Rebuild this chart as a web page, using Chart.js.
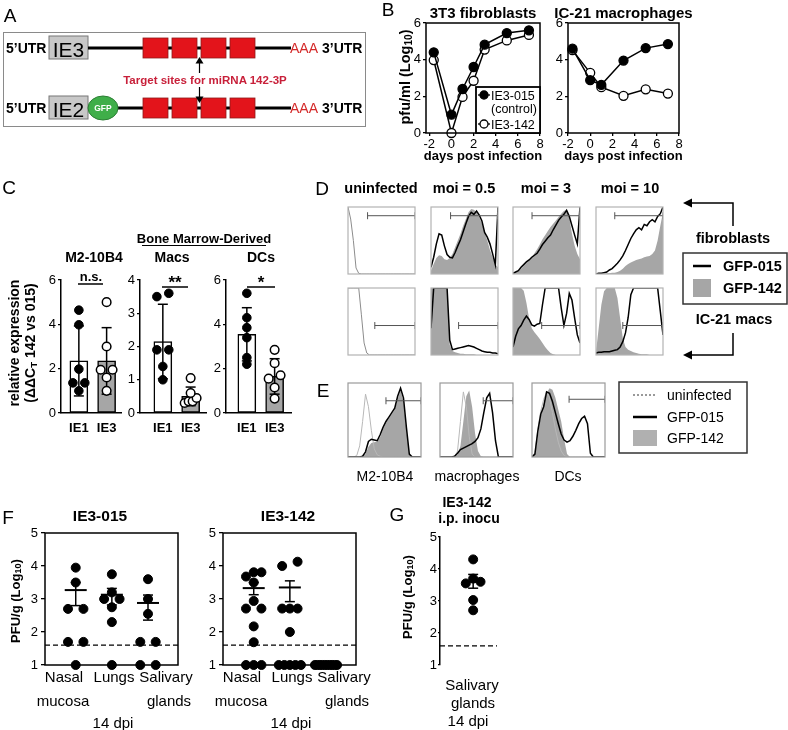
<!DOCTYPE html>
<html lang="en">
<head>
<meta charset="utf-8">
<title>Figure</title>
<script src="https://cdn.jsdelivr.net/npm/chart.js@4.4.1/dist/chart.umd.min.js"></script>
<style>
  html, body { margin: 0; background: #fff; }
  #fig { position: relative; width: 788px; height: 730px; overflow: hidden; }
  #fig canvas { position: absolute; }
  #ov { position: absolute; left: 0; top: 0; z-index: 2; font-family: 'Liberation Sans', Arial, sans-serif; }
</style>
</head>
<body>
<div id="fig"><svg id="ov" width="788" height="730"></svg></div>
<script>
// ── B: 성장 곡선 (pfu/ml, log10)
const growthXTicks = [-2, 0, 2, 4, 6, 8];
const days3T3 = [-1.6, 0, 1, 2, 3, 5, 7];
const t3_015  = [4.4, 1.0, 2.4, 3.6, 4.82, 5.45, 5.6];
const t3_142  = [3.98, 0.0, 1.97, 2.85, 4.55, 5.05, 5.35];
const daysIC21 = [-1.6, 0, 1, 3, 5, 7];
const ic_015  = [4.6, 2.88, 2.63, 3.95, 4.63, 4.85];
const ic_142  = [4.52, 3.28, 2.5, 2.03, 2.38, 2.15];

// ── C: relative expression (bar = mean, SD)
const cLabels = ['IE1', 'IE3'];
const m2IE1  = [4.64, 3.98, 1.98, 1.36, 1.36, 1.0];
const m2IE3  = [5.0, 3.0, 1.95, 1.95, 1.6, 1.0];
const m2Bar  = [2.35, 2.35];
const m2Sd   = [1.58, 1.5];
const macIE1 = [3.5, 3.6, 1.9, 1.9, 1.4, 1.0];
const macIE3 = [1.05, 0.6, 0.45, 0.35, 0.35, 0.3];
const macBar = [2.15, 0.5];
const macSd  = [1.12, 0.28];
const dcIE1  = [5.4, 4.3, 3.85, 3.4, 2.5, 2.2];
const dcIE3  = [2.85, 2.25, 1.7, 1.55, 1.15, 0.65];
const dcBar  = [3.55, 1.65];
const dcSd   = [1.2, 0.8];

// ── D: 유세포 히스토그램 (26 bins, % of max)
const dUninfR1  = [100, 82, 50, 9, 1, 0, 0, 0, 0, 0, 0, 0, 0, 0, 0, 0, 0, 0, 0, 0, 0, 0, 0, 0, 0, 0];
const d05R1_015 = [10, 25, 45, 60, 58, 42, 29, 25, 24, 32, 42, 51, 63, 75, 86, 92, 89, 94, 88, 79, 62, 55, 45, 30, 14, 100];
const d05R1_142 = [5, 15, 24, 28, 27, 22, 21, 24, 30, 40, 50, 60, 72, 82, 92, 97, 96, 92, 85, 75, 62, 50, 36, 25, 14, 10];
const d3R1_015  = [1, 3, 5, 10, 14, 18, 21, 25, 28, 31, 37, 44, 49, 54, 58, 66, 73, 80, 85, 89, 95, 86, 72, 58, 45, 100];
const d3R1_142  = [1, 2, 4, 8, 12, 16, 20, 25, 31, 37, 44, 52, 58, 64, 70, 75, 80, 85, 90, 94, 96, 84, 60, 42, 30, 22];
const d10R1_015 = [0, 1, 1, 2, 3, 6, 8, 12, 16, 21, 27, 35, 44, 53, 60, 66, 69, 66, 74, 72, 78, 81, 78, 86, 90, 100];
const d10R1_142 = [0, 0, 0, 0, 1, 1, 2, 2, 3, 5, 8, 12, 15, 17, 19, 21, 22, 23, 25, 26, 27, 30, 35, 50, 72, 92];
const dUninfR2  = [100, 100, 100, 100, 100, 60, 18, 3, 0, 0, 0, 0, 0, 0, 0, 0, 0, 0, 0, 0, 0, 0, 0, 0, 0, 0];
const d05R2_015 = [40, 100, 100, 100, 100, 100, 100, 22, 8, 9, 10, 11, 12, 13, 14, 13, 12, 10, 8, 6, 5, 4, 4, 3, 3, 2];
const d05R2_142 = [100, 100, 100, 100, 100, 100, 100, 15, 6, 4, 3, 2, 2, 1, 1, 1, 1, 0, 0, 0, 0, 0, 0, 0, 0, 0];
const d3R2_015  = [12, 28, 39, 44, 52, 58, 53, 45, 43, 46, 47, 75, 100, 100, 100, 100, 100, 100, 70, 44, 62, 92, 82, 55, 30, 18];
const d3R2_142  = [100, 100, 100, 100, 96, 78, 55, 40, 34, 29, 24, 18, 12, 7, 3, 1, 0, 0, 0, 0, 0, 0, 0, 0, 0, 0];
const d10R2_015 = [3, 4, 4, 5, 5, 5, 6, 7, 8, 12, 20, 33, 56, 90, 100, 100, 100, 100, 100, 100, 100, 100, 100, 100, 65, 30];
const d10R2_142 = [5, 40, 75, 95, 100, 100, 100, 100, 85, 55, 25, 12, 8, 6, 4, 3, 2, 1, 1, 1, 0, 0, 0, 0, 0, 0];
const dGateR1  = [7.3, 7.3, 7.1, 7.0];
const dGateR2  = [10, 10.3, 10.7, 10];
const dGateLvl = [87, 44];

// ── E: 히스토그램 (uninfected / GFP-015 / GFP-142)
const eM2_un   = [0, 0, 0, 2, 15, 48, 85, 68, 36, 11, 3, 1, 0, 0, 0, 0, 0, 0, 0, 0, 0, 0, 0, 0, 0, 0];
const eM2_015  = [0, 0, 0, 0, 0, 1, 7, 21, 24, 23, 22, 30, 40, 48, 54, 60, 66, 82, 93, 80, 40, 4, 0, 0, 0, 0];
const eM2_142  = [0, 0, 0, 0, 0, 0, 4, 14, 19, 20, 21, 27, 37, 46, 52, 58, 64, 78, 90, 76, 36, 3, 0, 0, 0, 0];
const eMac_un  = [0, 0, 0, 0, 0, 1, 8, 48, 88, 68, 28, 4, 0, 0, 0, 0, 0, 0, 0, 0, 0, 0, 0, 0, 0, 0];
const eMac_015 = [0, 0, 0, 0, 0, 1, 5, 10, 12, 14, 16, 18, 21, 26, 38, 60, 80, 86, 60, 22, 0, 0, 0, 0, 0, 0];
const eMac_142 = [0, 0, 0, 0, 0, 0, 3, 15, 48, 82, 90, 68, 32, 8, 1, 0, 0, 0, 0, 0, 0, 0, 0, 0, 0, 0];
const eDC_un   = [0, 6, 38, 62, 78, 88, 80, 60, 38, 20, 8, 2, 0, 0, 0, 0, 0, 0, 0, 0, 0, 0, 0, 0, 0, 0];
const eDC_015  = [0, 4, 35, 58, 68, 88, 86, 75, 60, 45, 31, 23, 20, 22, 28, 36, 45, 52, 55, 45, 5, 0, 0, 0, 0, 0];
const eDC_142  = [0, 3, 28, 55, 72, 86, 93, 91, 80, 64, 48, 24, 4, 0, 0, 0, 0, 0, 0, 0, 0, 0, 0, 0, 0, 0];
const eGateX   = [13, 14.8, 12.7];
const eGateLvl = [76, 76, 78];

// ── F/G: PFU/g (log10), mean ± SEM
const LOD = 1.6;
const f015Nasal = [3.95, 3.5, 2.7, 2.7, 1.7, 1.7, 1.0];
const f015Lungs = [3.75, 3.2, 3.0, 3.0, 2.75, 2.3, 1.0];
const f015Sal   = [3.6, 3.0, 2.55, 1.7, 1.7, 1.0, 1.0];
const f015Mean  = [3.27, 3.13, 2.88];
const f015Hi    = [3.5, 3.32, 3.12];
const f015Lo    = [2.8, 2.82, 2.36];
const f142Nasal = [3.81, 3.81, 3.68, 3.5, 2.94, 2.71, 2.71, 2.17, 1.69, 1.0, 1.0, 1.0];
const f142Lungs = [4.13, 4.0, 2.71, 2.71, 2.71, 2.0, 1.0, 1.0, 1.0, 1.0, 1.0];
const f142Sal   = [1.0, 1.0, 1.0, 1.0, 1.0, 1.0, 1.0, 1.0, 1.0, 1.0];
const f142Mean  = [3.33, 3.35, null];
const f142Hi    = [3.5, 3.55, null];
const f142Lo    = [3.13, 2.92, null];
const gSal  = [4.3, 3.7, 3.6, 3.55, 3.03, 2.71];
const gMean = [3.6];
const gHi   = [3.83];
const gLo   = [3.4];

// ── 공통 설정
const fig = document.getElementById('fig');
Chart.defaults.font.family = "'Liberation Sans', Arial, sans-serif";
Chart.defaults.color = '#000';
Chart.defaults.animation = false;
Chart.defaults.plugins.legend.display = false;
Chart.defaults.plugins.tooltip.enabled = false;

// ── 플롯 테두리
Chart.register({
  id: 'frame',
  afterDraw(chart, args, o) {
    if (!o || !o.color) return;
    const a = chart.chartArea, ctx = chart.ctx;
    ctx.save();
    ctx.strokeStyle = o.color;
    ctx.lineWidth = o.width || 1;
    ctx.strokeRect(a.left, a.top, a.right - a.left, a.bottom - a.top);
    ctx.restore();
  }
});

// plot area (px,py,pw,ph) 기준으로 캔버스 배치
function mkChart(px, py, pw, ph, pad, cfg) {
  const c = document.createElement('canvas');
  const W = pw + pad.l + pad.r, H = ph + pad.t + pad.b;
  c.width = W; c.height = H;
  c.style.left = (px - pad.l) + 'px';
  c.style.top = (py - pad.t) + 'px';
  c.style.width = W + 'px';
  c.style.height = H + 'px';
  fig.appendChild(c);
  const sc = cfg.options.scales;
  const xOn = sc.x.display !== false, yOn = sc.y.display !== false;
  cfg.options.responsive = false;
  cfg.options.devicePixelRatio = 1;
  cfg.options.layout = { padding: { left: yOn ? 0 : pad.l, top: pad.t, right: pad.r, bottom: xOn ? 0 : pad.b } };
  if (xOn) sc.x.afterFit = s => { s.height = pad.b; };
  if (yOn) sc.y.afterFit = s => { s.width = pad.l; };
  return new Chart(c, cfg);
}

function yAx(min, max, step, o = {}) {
  return {
    type: 'linear', min, max,
    ticks: { stepSize: step, font: { size: o.fs || 13 }, padding: o.pad ?? 2 },
    grid: { drawOnChartArea: false, tickLength: o.tl ?? 3, color: '#000', lineWidth: 1.3 },
    border: { display: o.border !== false, color: '#000', width: 1.5 }
  };
}

function whisker(x, lo, hi, cap, order) {
  return {
    type: 'line', data: [{ x, y: lo }, { x, y: hi }],
    borderColor: '#000', borderWidth: 1.5,
    pointStyle: 'line', pointRadius: cap, pointBorderWidth: 1.5, pointBorderColor: '#000',
    order, clip: false
  };
}

// 같은 높이의 점은 옆으로 나란히 (Prism 스타일)
function swarm(vals, cat, step, maxHalf, tol) {
  const v = [...vals].sort((a, b) => a - b);
  const out = [];
  let i = 0;
  while (i < v.length) {
    let j = i;
    while (j + 1 < v.length && v[j + 1] - v[i] <= tol) j++;
    const row = v.slice(i, j + 1), n = row.length;
    const s = n > 1 ? Math.min(step, (n === 2 ? maxHalf : 2 * maxHalf / (n - 1))) : 0;
    const offs = n === 2 ? [-s, s] : row.map((_, q) => (q - (n - 1) / 2) * s);
    row.forEach((y, q) => out.push({ x: cat + offs[q], y }));
    i = j + 1;
  }
  return out;
}

// ── B
function growthChart(px, pw, xmin, days, s015, s142) {
  const ser = (vals, fill, order) => ({
    data: days.map((d, i) => ({ x: d, y: vals[i] })),
    showLine: true, borderColor: '#000', borderWidth: 1.5,
    pointRadius: 4.5, pointBackgroundColor: fill, pointBorderColor: '#000', pointBorderWidth: 1.3,
    order, clip: false
  });
  mkChart(px, 23, pw, 110, { l: 24, t: 10, r: 8, b: 20 }, {
    type: 'scatter',
    data: { datasets: [ser(s142, '#fff', 1), ser(s015, '#000', 0)] },
    options: {
      scales: {
        x: {
          type: 'linear', min: xmin, max: 8,
          afterBuildTicks: s => { s.ticks = growthXTicks.map(v => ({ value: v })); },
          ticks: { font: { size: 13 }, padding: 1, autoSkip: false, maxRotation: 0 },
          grid: { drawOnChartArea: false, tickLength: 3, color: '#000', lineWidth: 1.3 },
          border: { display: false }
        },
        y: yAx(0, 6, 1, { border: false })
      },
      plugins: { frame: { color: '#000', width: 1.5 } }
    }
  });
}
growthChart(426, 114, -2.3, days3T3, t3_015, t3_142);
growthChart(568, 111, -2, daysIC21, ic_015, ic_142);

// ── C
function exprChart(px, pw, xmin, xmax, ymax, step, ie1, ie3, bar, sd) {
  const k = pw / (xmax - xmin);
  mkChart(px, 280, pw, 133, { l: 20, t: 10, r: 6, b: 22 }, {
    type: 'bar',
    data: { datasets: [
      { data: bar.map((v, i) => ({ x: i + 1, y: v })), backgroundColor: ['#fff', '#a6a6a6'],
        borderColor: '#000', borderWidth: 1.5, borderSkipped: false, barThickness: 18, order: 3 },
      ...bar.map((v, i) => whisker(i + 1, v - sd[i], v + sd[i], 5, 2)),
      { type: 'scatter', data: swarm(ie1, 1, 6 / k, 6 / k, 0.2), pointRadius: 4.3,
        pointBackgroundColor: '#000', pointBorderColor: '#000', order: 0, clip: false },
      { type: 'scatter', data: swarm(ie3, 2, 6 / k, 6 / k, 0.2), pointRadius: 4.3,
        pointBackgroundColor: '#fff', pointBorderColor: '#000', pointBorderWidth: 1.5, order: 0, clip: false }
    ]},
    options: { scales: {
      x: {
        type: 'linear', min: xmin, max: xmax, offset: false,
        afterBuildTicks: s => { s.ticks = cLabels.map((_, i) => ({ value: i + 1 })); },
        ticks: { callback: v => cLabels[v - 1], font: { size: 13, weight: 'bold' }, padding: 8, autoSkip: false, maxRotation: 0 },
        grid: { display: false, drawTicks: false },
        border: { display: true, color: '#000', width: 1.5 }
      },
      y: yAx(0, ymax, step)
    }}
  });
}
exprChart(61, 61, 0.357, 2.536, 6, 2, m2IE1, m2IE3, m2Bar, m2Sd);
exprChart(140, 67, 0.179, 2.57, 4, 1, macIE1, macIE3, macBar, macSd);
exprChart(226, 66, 0.25, 2.607, 6, 2, dcIE1, dcIE3, dcBar, dcSd);

// ── D / E 히스토그램
function histChart(px, py, pw, ph, fill142, line015, uninf, gx, glvl, o) {
  const pts = v => v.map((y, x) => ({ x, y }));
  const ds = [];
  if (fill142) ds.push({ data: pts(fill142), fill: 'origin', backgroundColor: '#a6a6a6', borderWidth: 0, pointRadius: 0, order: 3 });
  if (uninf) ds.push({ data: pts(uninf), borderColor: o.unColor, borderWidth: 1, pointRadius: 0, order: 2 });
  if (line015) ds.push({ data: pts(line015), borderColor: '#000', borderWidth: 1.5, pointRadius: 0, order: 1 });
  ds.push({
    data: [{ x: gx, y: glvl }, { x: 25, y: glvl }], borderColor: '#555', borderWidth: 1,
    pointStyle: 'line', pointRotation: 90, pointRadius: 3.5, pointBorderColor: '#555', pointBorderWidth: 1, order: 0
  });
  mkChart(px, py, pw, ph, { l: 1, t: 1, r: 1, b: 1 }, {
    type: 'line', data: { datasets: ds },
    options: {
      scales: { x: { type: 'linear', min: 0, max: 25, display: false }, y: { min: 0, max: 100, display: false } },
      plugins: { frame: { color: o.edge, width: 1.2 } }
    }
  });
}
const dColX = [344, 427, 509, 592];
const dRowY = [203, 284];
const dSty = { unColor: '#8c8c8c', edge: '#b3b3b3' };
const dRows = [
  [[null, null, dUninfR1], [d05R1_142, d05R1_015], [d3R1_142, d3R1_015], [d10R1_142, d10R1_015]],
  [[null, null, dUninfR2], [d05R2_142, d05R2_015], [d3R2_142, d3R2_015], [d10R2_142, d10R2_015]]
];
const dGates = [dGateR1, dGateR2];
dRows.forEach((row, r) => row.forEach((c, i) =>
  histChart(dColX[i], dRowY[r], 75, 75, c[0], c[1], c[2], dGates[r][i], dGateLvl[r], dSty)));

const eColX = [344, 436, 528];
const eSty = { unColor: '#b8b8b8', edge: '#9a9a9a' };
[[eM2_142, eM2_015, eM2_un], [eMac_142, eMac_015, eMac_un], [eDC_142, eDC_015, eDC_un]].forEach((c, i) =>
  histChart(eColX[i], 379, 81, 82, c[0], c[1], c[2], eGateX[i], eGateLvl[i], eSty));

// ── F / G
function pfuChart(px, py, pw, ph, xmin, xmax, groups, mean, hi, lo, framed, ax) {
  const k = pw / (xmax - xmin);
  const ds = [{
    type: 'line', data: [{ x: xmin, y: LOD }, { x: xmax, y: LOD }],
    borderColor: '#000', borderWidth: 1.3, borderDash: [5, 3], pointRadius: 0, order: 5
  }];
  groups.forEach((g, i) => {
    ds.push({ data: swarm(g, i + 1, 8 / k, 11.5 / k, 0.15), pointRadius: 4.5,
      pointBackgroundColor: '#000', pointBorderColor: '#000', order: 2, clip: false });
    if (mean[i] != null) {
      ds.push(whisker(i + 1, lo[i], hi[i], 5, 0));
      ds.push({ data: [{ x: i + 1, y: mean[i] }], pointStyle: 'line', pointRadius: 11,
        pointBorderWidth: 2, pointBorderColor: '#000', order: 0, clip: false });
    }
  });
  mkChart(px, py, pw, ph, { l: 16, t: 10, r: 8, b: 10 }, {
    type: 'scatter', data: { datasets: ds },
    options: {
      scales: {
        x: { type: 'linear', min: xmin, max: xmax, display: false },
        y: yAx(1, 5, 1, Object.assign({ border: !framed }, ax))
      },
      plugins: { frame: framed ? { color: '#000', width: 1.5 } : false }
    }
  });
}
pfuChart(45, 530, 138, 138, 0.15, 3.83, [f015Nasal, f015Lungs, f015Sal], f015Mean, f015Hi, f015Lo, true, { tl: 4, pad: 3 });
pfuChart(223, 530, 138, 138, 0.15, 3.83, [f142Nasal, f142Lungs, f142Sal], f142Mean, f142Hi, f142Lo, true, { tl: 4, pad: 3 });
pfuChart(440, 534, 62, 134, 0.04, 1.69, [gSal], gMean, gHi, gLo, false, { tl: 2, pad: 1 });

// ── 텍스트 / 도식 (SVG)
const svg = [];
const T = (x, y, s, fs, o = {}) => svg.push(
  `<text x="${x}" y="${y}" font-size="${fs}" font-weight="${o.b ? 'bold' : 'normal'}" text-anchor="${o.a || 'middle'}" dominant-baseline="central" fill="${o.c || '#000'}"${o.rot ? ` transform="rotate(-90 ${x} ${y})"` : ''}>${s}</text>`);
const L = (x1, y1, x2, y2, w = 1.5, c = '#000', dash) => svg.push(
  `<line x1="${x1}" y1="${y1}" x2="${x2}" y2="${y2}" stroke="${c}" stroke-width="${w}"${dash ? ` stroke-dasharray="${dash}"` : ''}/>`);
const R = (x, y, w, h, fill, stroke = 'none', sw = 1) => svg.push(
  `<rect x="${x}" y="${y}" width="${w}" height="${h}" fill="${fill}" stroke="${stroke}" stroke-width="${sw}"/>`);
const C = (x, y, r, fill, stroke = '#000', sw = 1.3) => svg.push(
  `<circle cx="${x}" cy="${y}" r="${r}" fill="${fill}" stroke="${stroke}" stroke-width="${sw}"/>`);
const P = (pts, fill) => svg.push(`<polygon points="${pts}" fill="${fill}"/>`);
const log10 = 'Log<tspan dy="3" font-size="70%">10</tspan><tspan dy="-3">)</tspan>';

// 패널 문자
[['A', 10, 15], ['B', 388, 9], ['C', 9, 187], ['D', 322, 188], ['E', 323, 390], ['F', 8, 517], ['G', 397, 514]]
  .forEach(([s, x, y]) => T(x, y, s, 19));

// A: 구조 도식
R(3.5, 32.5, 362, 94, 'none', '#8a8a8a', 1);
[48, 108].forEach((y, r) => {
  T(6, y, '5’UTR', 14, { b: 1, a: 'start' });
  R(49, y - 12, 39, 23, '#c8c8c8', '#777', 1);
  T(68.5, y + 1, r ? 'IE2' : 'IE3', 21);
  L(r ? 117 : 88, y, 291, y, 3);
  if (r) {
    svg.push(`<ellipse cx="103" cy="${y}" rx="15" ry="12" fill="#3fae49" stroke="#2b7d33" stroke-width="1"/>`);
    T(103, y, 'GFP', 8.5, { b: 1, c: '#fff' });
  }
  [143, 172, 201, 230].forEach(x => R(x, y - 10, 25, 20, '#e3141b', '#8e1b1b', 0.8));
  T(290, y, 'AAA', 14, { a: 'start', c: '#d42a2a' });
  T(322, y, '3’UTR', 14, { b: 1, a: 'start' });
});
L(199.5, 62, 199.5, 73, 1.2);
P('199.5,57 195.5,63.5 203.5,63.5', '#000');
T(205, 80, 'Target sites for miRNA 142-3P', 11.5, { b: 1, c: '#c8203a' });
L(199.5, 87, 199.5, 97, 1.2);
P('199.5,103 195.5,96.5 203.5,96.5', '#000');

// B
T(483, 12, '3T3 fibroblasts', 15, { b: 1 });
T(623.5, 12, 'IC-21 macrophages', 15, { b: 1 });
T(405, 77, 'pfu/ml (' + log10, 14.5, { b: 1, rot: 1 });
T(483, 155, 'days post infection', 13, { b: 1 });
T(623.5, 155, 'days post infection', 13, { b: 1 });
R(476, 87, 64, 46, '#fff', '#000', 1.8);
L(478, 95, 490, 95, 1.3); C(484, 95, 4, '#000');
T(491, 95.5, 'IE3-015', 12.5, { a: 'start' });
T(491, 108.5, '(control)', 12.5, { a: 'start' });
L(478, 124, 490, 124, 1.3); C(484, 124, 4, '#fff');
T(491, 124.5, 'IE3-142', 12.5, { a: 'start' });

// C
T(204, 238, 'Bone Marrow-Derived', 13, { b: 1 });
L(142, 245.5, 266, 245.5, 1.2);
T(94, 257, 'M2-10B4', 14, { b: 1 });
T(172, 257, 'Macs', 14, { b: 1 });
T(261, 257, 'DCs', 14, { b: 1 });
T(14, 343, 'relative expression', 14, { b: 1, rot: 1 });
T(30, 343, '(ΔΔC<tspan dy="3" font-size="70%">T</tspan><tspan dy="-3"> 142 vs 015)</tspan>', 14, { b: 1, rot: 1 });
T(91, 276, 'n.s.', 13, { b: 1 }); L(78, 284, 103, 284);
T(175, 282, '**', 17, { b: 1 }); L(162, 287, 188, 287);
T(261, 282, '*', 17, { b: 1 }); L(247, 287, 275, 287);

// D
T(381, 188, 'uninfected', 14.5, { b: 1 });
T(464, 188, 'moi = 0.5', 14.5, { b: 1 });
T(546, 188, 'moi = 3', 14.5, { b: 1 });
T(630, 188, 'moi = 10', 14.5, { b: 1 });
svg.push('<path d="M733,226 V203 H690" fill="none" stroke="#000" stroke-width="1.5"/>');
P('683,203 692,198.5 692,207.5', '#000');
svg.push('<path d="M733,333 V355 H690" fill="none" stroke="#000" stroke-width="1.5"/>');
P('683,355 692,350.5 692,359.5', '#000');
T(733, 238, 'fibroblasts', 14.5, { b: 1 });
T(734, 319, 'IC-21 macs', 14.5, { b: 1 });
R(683, 253, 104, 51, 'none', '#333', 1.5);
L(693, 266, 711, 266, 2.5);
T(723, 266, 'GFP-015', 14.5, { b: 1, a: 'start' });
R(693, 279, 18, 18, '#a6a6a6');
T(723, 288, 'GFP-142', 14.5, { b: 1, a: 'start' });

// E
T(385, 476, 'M2-10B4', 14);
T(477, 476, 'macrophages', 14);
T(568, 476, 'DCs', 14);
R(619, 382, 128, 71, 'none', '#333', 1.5);
L(633, 395, 657, 395, 2, '#999', '2,2');
T(667, 395, 'uninfected', 14, { a: 'start' });
L(633, 417, 657, 417, 2.5);
T(667, 417, 'GFP-015', 14, { a: 'start' });
R(633, 430, 24, 16, '#b0b0b0');
T(667, 438, 'GFP-142', 14, { a: 'start' });

// F
T(100, 515, 'IE3-015', 15.5, { b: 1 });
T(288, 515, 'IE3-142', 15.5, { b: 1 });
T(15, 601, 'PFU/g (' + log10, 13, { b: 1, rot: 1 });
[[0, 45], [1, 223]].forEach(([_, x0]) => {
  T(x0 + 19, 676, 'Nasal', 15); T(x0 + 18, 700, 'mucosa', 15);
  T(x0 + 69, 676, 'Lungs', 15);
  T(x0 + 121, 676, 'Salivary', 15); T(x0 + 124, 700, 'glands', 15);
  T(x0 + 68, 722, '14 dpi', 15);
});

// G
T(467, 502, 'IE3-142', 14, { b: 1 });
T(469, 518, 'i.p. inocu', 14, { b: 1 });
T(407, 597, 'PFU/g (' + log10, 13, { b: 1, rot: 1 });
T(472, 684, 'Salivary', 15);
T(473, 702, 'glands', 15);
T(468, 720, '14 dpi', 15);

document.getElementById('ov').innerHTML = svg.join('');
</script>
</body>
</html>
